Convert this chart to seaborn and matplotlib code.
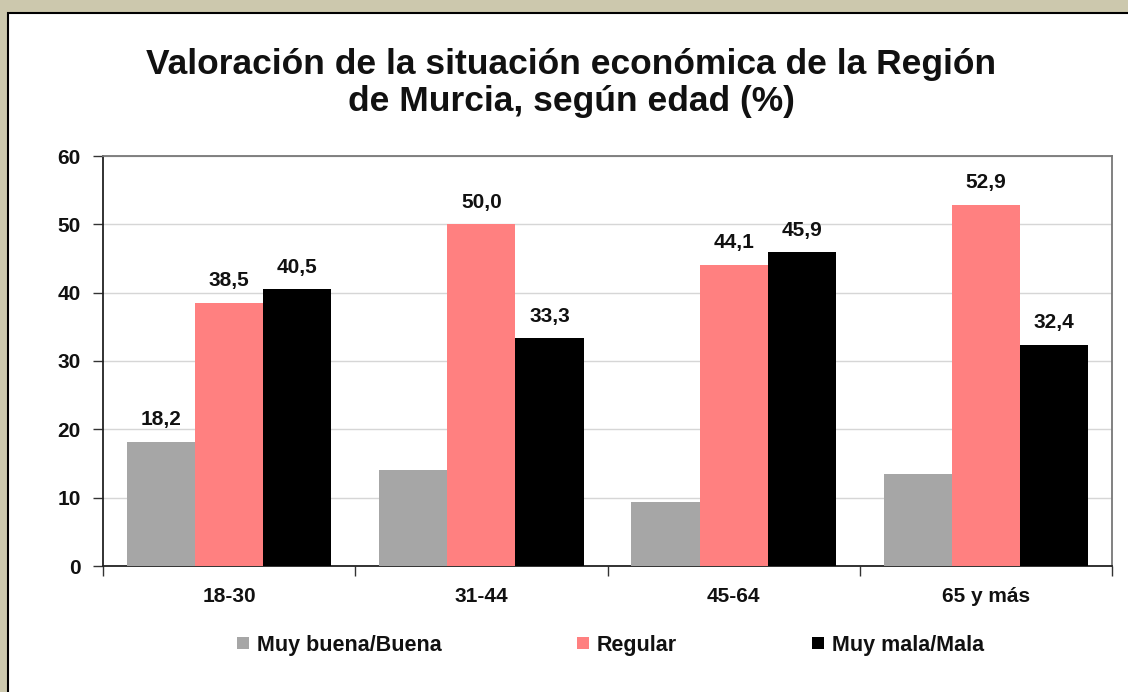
import matplotlib
matplotlib.use("Agg")
import matplotlib.pyplot as plt
import seaborn as sns
import pandas as pd
from matplotlib.patches import Rectangle

categories = ["18-30", "31-44", "45-64", "65 y más"]
series = ["Muy buena/Buena", "Regular", "Muy mala/Mala"]
buena = [18.2, 14.0, 9.4, 13.4]
regular = [38.5, 50.0, 44.1, 52.9]
mala = [40.5, 33.3, 45.9, 32.4]
buena_labels = ["18,2", None, None, None]
regular_labels = ["38,5", "50,0", "44,1", "52,9"]
mala_labels = ["40,5", "33,3", "45,9", "32,4"]
colors = ["#a6a6a6", "#ff8080", "#000000"]
title = "Valoración de la situación económica de la Región\nde Murcia, según edad (%)"

rows = []
for vals, s in zip([buena, regular, mala], series):
    for c, v in zip(categories, vals):
        rows.append({"edad": c, "serie": s, "valor": v})
df = pd.DataFrame(rows)

sns.set_style("white")
plt.rcParams["font.family"] = ["Liberation Sans", "DejaVu Sans"]
plt.rcParams["font.weight"] = "bold"

fig = plt.figure(figsize=(11.28, 6.92), dpi=100)
fig.patch.set_facecolor("#ccc8ad")
bg = fig.add_axes([0, 0, 1, 1], zorder=-5)
bg.set_xlim(0, 1128)
bg.set_ylim(692, 0)
bg.axis("off")
bg.add_patch(Rectangle((8, 13), 1200, 700, facecolor="white", edgecolor="black", linewidth=1.5))

ax = fig.add_axes([103/1128, 1 - 566/692, (1112-103)/1128, (566-156)/692], zorder=1)
ax.set_facecolor("white")
sns.barplot(data=df, x="edad", y="valor", hue="serie", order=categories, hue_order=series,
            palette=colors, width=0.81, saturation=1, linewidth=0, ax=ax, legend=True, zorder=3)

ax.set_ylim(0, 60)
ax.set_xlim(-0.5, 3.5)
ax.set_yticks(range(0, 61, 10))
ax.yaxis.grid(True, color="#d6d6d6", linewidth=1, zorder=0)
ax.set_axisbelow(True)
ax.set_xlabel("")
ax.set_ylabel("")
for lab in ax.get_yticklabels() + ax.get_xticklabels():
    lab.set_fontweight("bold")
    lab.set_fontsize(15)
    lab.set_color("#111111")
ax.tick_params(axis="y", left=True, length=7, width=1, color="#333333", pad=9)
ax.tick_params(axis="x", which="major", length=0, pad=15)
ax.set_xticks([-0.5, 0.5, 1.5, 2.5, 3.5], minor=True)
ax.tick_params(axis="x", which="minor", bottom=True, length=7, width=1, color="#333333")

ax.spines["left"].set_color("#222222")
ax.spines["bottom"].set_color("#222222")
ax.spines["top"].set_color("#777777")
ax.spines["right"].set_color("#777777")
for sp in ax.spines.values():
    sp.set_linewidth(1.3)

for container, labels in zip(ax.containers, [buena_labels, regular_labels, mala_labels]):
    for bar, lab in zip(container, labels):
        if lab is None:
            continue
        ax.annotate(lab, (bar.get_x() + bar.get_width()/2, bar.get_height()),
                    xytext=(0, 9), textcoords="offset points", ha="center", va="bottom",
                    fontsize=15, fontweight="bold", color="#111111")

leg = ax.legend(loc="center", bbox_to_anchor=(0.503, -0.193), ncol=3, frameon=False,
                handlelength=0.55, handleheight=0.55, handletextpad=0.35, columnspacing=6.3,
                prop={"size": 15.5, "weight": "bold"})
for t in leg.get_texts():
    t.set_color("#111111")

fig.text(571/1128, 1 - 83/692, title, ha="center", va="center", fontsize=25.5,
         fontweight="bold", linespacing=1.12, color="#111111")

fig.savefig("out.png", dpi=100, facecolor=fig.get_facecolor())
